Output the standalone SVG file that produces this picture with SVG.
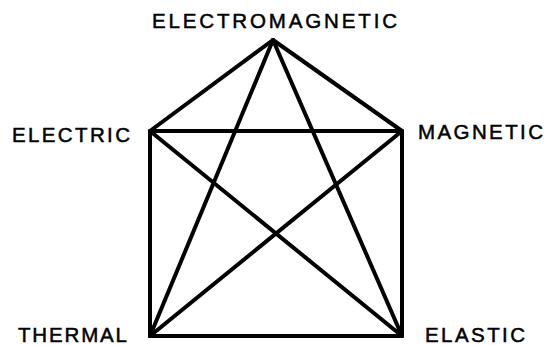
<svg xmlns="http://www.w3.org/2000/svg" width="550" height="345" viewBox="0 0 550 345">
<style>
.e{stroke:#000;stroke-width:4;stroke-linecap:round;fill:none}
.t{font-family:"Liberation Sans",Arial,sans-serif;font-size:20.5px;fill:#000;stroke:#000;stroke-width:0.5}
</style>
<rect width="550" height="345" fill="#fff"/>
<g id="connectors">
<line class="e" x1="273" y1="40" x2="150" y2="131"/>
<line class="e" x1="273" y1="40" x2="402" y2="131"/>
<line class="e" x1="273" y1="40" x2="150" y2="336"/>
<line class="e" x1="273" y1="40" x2="402" y2="336"/>
<line class="e" x1="150" y1="131" x2="402" y2="131"/>
<line class="e" x1="150" y1="131" x2="150" y2="336"/>
<line class="e" x1="150" y1="131" x2="402" y2="336"/>
<line class="e" x1="402" y1="131" x2="402" y2="336"/>
<line class="e" x1="402" y1="131" x2="150" y2="336"/>
<line class="e" x1="150" y1="336" x2="402" y2="336"/>
</g>
<g id="electromagnetic"><text class="t" x="152" y="28" textLength="245" lengthAdjust="spacing">ELECTROMAGNETIC</text></g>
<g id="electric"><text class="t" x="12" y="142" textLength="118" lengthAdjust="spacing">ELECTRIC</text></g>
<g id="magnetic"><text class="t" x="418" y="139" textLength="125" lengthAdjust="spacing">MAGNETIC</text></g>
<g id="thermal"><text class="t" x="18" y="342" textLength="109" lengthAdjust="spacing">THERMAL</text></g>
<g id="elastic"><text class="t" x="425" y="342" textLength="100" lengthAdjust="spacing">ELASTIC</text></g>
</svg>
